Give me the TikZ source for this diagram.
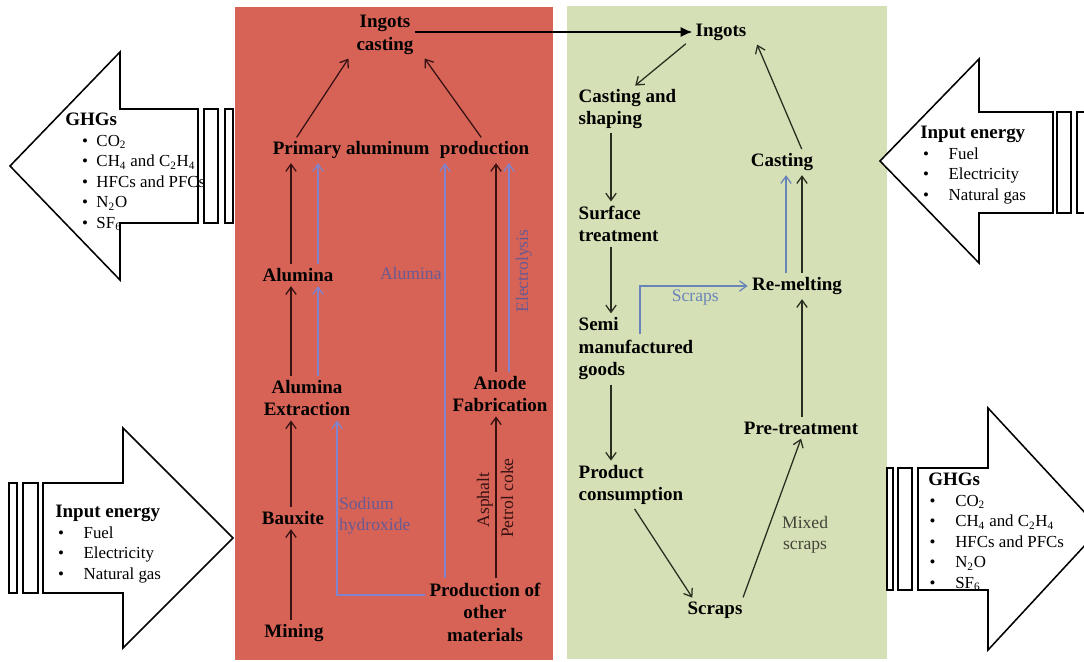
\documentclass[tikz,border=0pt]{standalone}
\usepackage{fontspec}
\setmainfont{Liberation Serif}
\usetikzlibrary{arrows.meta,positioning,calc}

\definecolor{panelred}{RGB}{215,99,87}
\definecolor{panelgreen}{RGB}{214,224,182}
\definecolor{flowdark}{RGB}{55,18,18}
\definecolor{flowblue}{RGB}{128,132,205}
\definecolor{labelpurple}{RGB}{105,90,145}
\definecolor{greenflow}{RGB}{40,45,32}
\definecolor{scrapblue}{RGB}{105,132,185}
\definecolor{notegray}{RGB}{65,68,55}

\begin{document}
\begin{tikzpicture}[
    x=0.025cm, y=-0.025cm,
    every node/.style={align=center},
    stage/.style={
        font=\fontsize{13.5}{16}\selectfont\bfseries,
        inner sep=1pt
    },
    leftstage/.style={stage, align=left, anchor=west},
    flow/.style={
        draw=flowdark,
        line width=0.9pt,
        -{Straight Barb[length=1.8mm,width=2.6mm]},
        shorten >=2pt, shorten <=2pt
    },
    mat/.style={flow, draw=flowblue},
    loopflow/.style={flow, draw=greenflow},
    note/.style={font=\fontsize{12.5}{15}\selectfont, text=labelpurple, inner sep=2pt},
    blockarrow/.style={draw=black, fill=white, line width=1.1pt, line join=miter},
    bar/.style={draw=black, fill=white, line width=1.1pt},
    infobox/.style={
        font=\fontsize{12}{14.6}\selectfont,
        align=left, anchor=north west, inner sep=0pt
    }
]
\clip (0,0) rectangle (1084,662);
\fill[white] (0,0) rectangle (1084,662);

% two panels
\fill[panelred] (235,7) rectangle (553,660);
\fill[panelgreen] (567,6) rectangle (887,659);

% lanes for the vertical flows
\coordinate (lnMain) at (291,0);
\coordinate (lnSide) at (318,0);
\coordinate (lnNaoh) at (337,0);
\coordinate (lnAlu)  at (445,0);
\coordinate (lnAnod) at (496,0);
\coordinate (lnElec) at (509,0);
\coordinate (lnLeft) at (611,0);
\coordinate (lnScrp) at (640,0);
\coordinate (lnBlue) at (786,0);
\coordinate (lnRemt) at (802,0);

% primary production
\node[stage] (ingc) at (385,35) {Ingots\\casting};
\node[stage] (prim) at (401,150) {Primary aluminum\hspace{0.55em}production};
\node[stage] (alum) at (298,275) {Alumina};
\node[stage] (extr) at (307,398) {Alumina\\Extraction};
\node[stage] (baux) at (293,518) {Bauxite};
\node[stage] (mine) at (294,633) {Mining};
\node[stage] (anod) at (500,394) {Anode\\Fabrication};
\node[stage] (othr) at (485,612) {Production of\\other\\materials};

\draw[flow] ($(prim.north west)+(24,0)$) -- ($(ingc.south)+(-35,0)$);
\draw[flow] ($(prim.north east)+(-48,0)$) -- ($(ingc.south)+(38,0)$);
\draw[flow] (lnMain |- alum.north) -- (lnMain |- prim.south);
\draw[mat] (lnSide |- alum.north) -- (lnSide |- prim.south);
\draw[flow] (lnMain |- extr.north) -- (lnMain |- alum.south);
\draw[mat] (lnSide |- extr.north) -- (lnSide |- alum.south);
\draw[flow] (lnMain |- baux.north) -- (lnMain |- extr.south);
\draw[flow] (lnMain |- mine.north) -- (lnMain |- baux.south);
\draw[mat] ($(othr.west)+(0,-17)$) -| (lnNaoh |- extr.south);
\node[note, anchor=north west, align=left] (naoh) at (336,494) {Sodium\\hydroxide};
\draw[mat] (lnAlu |- othr.north) -- node[note, left, pos=0.73] {Alumina} (lnAlu |- prim.south);
\draw[flow] (lnAnod |- anod.north) -- (lnAnod |- prim.south);
\draw[mat] (lnElec |- anod.north) -- (lnElec |- prim.south);
\node[note, rotate=90] (elec) at (524,271) {Electrolysis};
\draw[flow] (lnAnod |- othr.north) -- (lnAnod |- anod.south);
\node[note, rotate=90, text=flowdark] (asph) at (485,500) {Asphalt};
\node[note, rotate=90, text=flowdark] (coke) at (507,498) {Petrol coke};

% ingots handed over
\node[stage] (ingt) at (721,32) {Ingots};
\draw[line width=1.7pt, -{Latex[length=3mm,width=2.6mm]}, shorten >=1pt]
    (ingc.east |- ingt.west) -- (ingt.west);

% use and recycling
\node[leftstage] (cshp) at (577,109) {Casting and\\shaping};
\node[leftstage] (surf) at (577,224) {Surface\\treatment};
\node[leftstage] (semi) at (577,349) {Semi\\manufactured\\goods};
\node[leftstage] (cons) at (577,485) {Product\\consumption};
\node[stage] (scrp) at (715,610) {Scraps};
\node[stage] (pret) at (801,428) {Pre-treatment};
\node[stage] (remt) at (797,286) {Re-melting};
\node[stage] (cast) at (782,162) {Casting};

\draw[loopflow] ($(ingt.south west)+(-6,0)$) -- ($(cshp.north west)+(56,0)$);
\draw[loopflow] (lnLeft |- cshp.south) -- (lnLeft |- surf.north);
\draw[loopflow] (lnLeft |- surf.south) -- (lnLeft |- semi.north);
\draw[loopflow] (lnLeft |- semi.south) -- (lnLeft |- cons.north);
\draw[loopflow] ($(cons.south west)+(56,0)$) -- ($(scrp.north west)+(8,0)$);
\draw[loopflow] ($(scrp.north east)+(-2,0)$) -- node[note, text=notegray, right, pos=0.4, xshift=9pt] {Mixed\\scraps} (lnRemt |- pret.south);
\draw[loopflow] (lnRemt |- pret.north) -- (lnRemt |- remt.south);
\draw[loopflow] (lnRemt |- remt.north) -- (lnRemt |- cast.south);
\draw[mat, draw=scrapblue] (lnBlue |- remt.north) -- (lnBlue |- cast.south);
\draw[loopflow] ($(cast.north east)+(-12,0)$) -- ($(ingt.south east)+(8,0)$);
\draw[mat, draw=scrapblue, shorten <=0pt] ($(lnScrp |- semi.north)+(0,18)$) |- node[note, text=scrapblue, below, pos=0.75] {Scraps} (remt.west);

% emissions and energy
\draw[blockarrow] (10,166) -- (120,52) -- (120,109) -- (198,109) -- (198,223) -- (120,223) -- (120,280) -- cycle;
\draw[bar] (204,109) rectangle (218,223);
\draw[bar] (225,109) rectangle (233,223);
\node[infobox] (ghgl) at (65,111) {\begin{tabular}{@{\hspace{12pt}}l@{\hspace{6pt}}l@{}}
    \multicolumn{2}{@{}l}{\fontsize{13.5}{14.2}\selectfont\bfseries GHGs}\\
    \textbullet & CO\textsubscript{2}\\
    \textbullet & CH\textsubscript{4} and C\textsubscript{2}H\textsubscript{4}\\
    \textbullet & HFCs and PFCs\\
    \textbullet & N\textsubscript{2}O\\
    \textbullet & SF\textsubscript{6}
\end{tabular}};

\draw[bar] (9,483) rectangle (17,593);
\draw[bar] (23,483) rectangle (38,593);
\draw[blockarrow] (43,483) -- (123,483) -- (123,428) -- (233,538) -- (123,648) -- (123,593) -- (43,593) -- cycle;
\node[infobox] (enrl) at (55,503) {\begin{tabular}{@{\hspace{2pt}}l@{\hspace{14pt}}l@{}}
    \multicolumn{2}{@{}l}{\fontsize{13.5}{14.2}\selectfont\bfseries Input energy}\\
    \textbullet & Fuel\\
    \textbullet & Electricity\\
    \textbullet & Natural gas
\end{tabular}};

\draw[blockarrow] (880,161) -- (979,59) -- (979,112) -- (1053,112) -- (1053,213) -- (979,213) -- (979,263) -- cycle;
\draw[bar] (1057,112) rectangle (1071,213);
\draw[bar] (1077,112) rectangle (1090,213);
\node[infobox] (enrr) at (920,124) {\begin{tabular}{@{\hspace{2pt}}l@{\hspace{14pt}}l@{}}
    \multicolumn{2}{@{}l}{\fontsize{13.5}{14.2}\selectfont\bfseries Input energy}\\
    \textbullet & Fuel\\
    \textbullet & Electricity\\
    \textbullet & Natural gas
\end{tabular}};

\draw[bar] (887,468) rectangle (893,590);
\draw[bar] (898,468) rectangle (912,590);
\draw[blockarrow] (918,468) -- (988,468) -- (988,408) -- (1100,529) -- (988,650) -- (988,590) -- (918,590) -- cycle;
\node[infobox] (ghgr) at (928,471) {\begin{tabular}{@{\hspace{1pt}}l@{\hspace{14pt}}l@{}}
    \multicolumn{2}{@{}l}{\fontsize{13.5}{14.2}\selectfont\bfseries GHGs}\\
    \textbullet & CO\textsubscript{2}\\
    \textbullet & CH\textsubscript{4} and C\textsubscript{2}H\textsubscript{4}\\
    \textbullet & HFCs and PFCs\\
    \textbullet & N\textsubscript{2}O\\
    \textbullet & SF\textsubscript{6}
\end{tabular}};
\end{tikzpicture}
\end{document}
